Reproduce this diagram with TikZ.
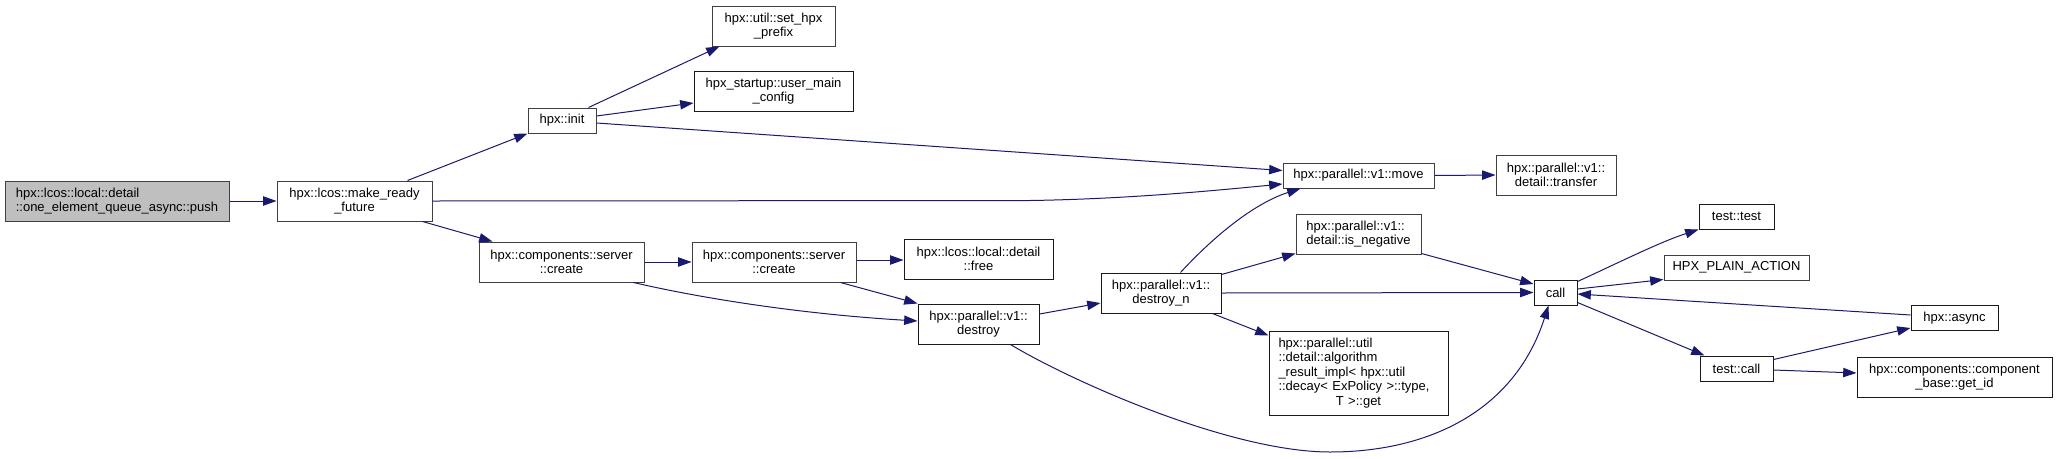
\documentclass[tikz,border=0pt]{standalone}
\usepackage{fontspec}
\setmainfont{Liberation Sans}
\usetikzlibrary{arrows.meta,calc}
\definecolor{edgec}{HTML}{191970}
\definecolor{bordg}{HTML}{404040}
\definecolor{bordk}{HTML}{1A1A1A}
\definecolor{rootfill}{HTML}{BFBFBF}
\begin{document}
\begin{tikzpicture}[x=0.75pt,y=-0.75pt,
  box/.style={draw=bordk,line width=0.75pt,fill=white,inner sep=0pt,align=center,
    minimum height=30pt,font=\fontsize{9.75}{10.5}\selectfont},
  gbox/.style={box,draw=bordg},
  sbox/.style={minimum height=18.75pt},
  edge/.style={draw=edgec,line width=0.75pt,-{Triangle[length=10pt,width=7pt]}}
]
\useasboundingbox (0,0) rectangle (2057,458);
% nodes
\node[gbox,fill=rootfill,align=left,minimum width=168pt] (push) at (117,201)
  {hpx::lcos::local::detail\\::one\_element\_queue\_async::push};
\node[gbox,minimum width=116.25pt] (mrf) at (354.5,201) {hpx::lcos::make\_ready\\\_future};
\node[gbox,sbox,minimum width=51pt] (init) at (562,120.5) {hpx::init};
\node[gbox,minimum width=92.25pt] (set) at (773.5,26) {hpx::util::set\_hpx\\\_prefix};
\node[box,minimum width=119.25pt] (umc) at (773.5,91) {hpx\_startup::user\_main\\\_config};
\node[gbox,minimum width=123.75pt] (create1) at (561.5,262) {hpx::components::server\\::create};
\node[gbox,minimum width=123pt] (create2) at (774,262) {hpx::components::server\\::create};
\node[box,minimum width=111.75pt] (free) at (978.5,259) {hpx::lcos::local::detail\\::free};
\node[box,minimum width=90.75pt] (destroy) at (978.5,324) {hpx::parallel::v1::\\destroy};
\node[box,minimum width=90pt] (dn) at (1161,293) {hpx::parallel::v1::\\destroy\_n};
\node[gbox,sbox,minimum width=113.25pt] (move) at (1358.5,175.5) {hpx::parallel::v1::move};
\node[gbox,minimum width=90pt] (transfer) at (1556,175) {hpx::parallel::v1::\\detail::transfer};
\node[gbox,align=left,minimum width=93.75pt] (isneg) at (1358.5,234) {hpx::parallel::v1::\\detail::is\_negative};
\node[box,align=left,text width=120pt,minimum width=134.25pt,minimum height=63pt,
  font=\fontsize{9.75}{10.8}\selectfont] (alg) at (1358.5,373)
  {hpx::parallel::util\\::detail::algorithm\\\_result\_impl< hpx::util\\::decay< ExPolicy >::type,\\\makebox[\linewidth]{T >::get}};
\node[box,sbox,minimum width=32.25pt] (call) at (1555.5,292.5) {call};
\node[box,sbox,minimum width=56.25pt] (tt) at (1736.5,216.5) {test::test};
\node[gbox,sbox,minimum width=108.75pt] (hpa) at (1736.5,267.5) {HPX\_PLAIN\_ACTION};
\node[box,sbox,minimum width=65.25pt] (async) at (1954.5,318) {hpx::async};
\node[box,sbox,minimum width=54.75pt] (tc) at (1736.5,368.5) {test::call};
\node[box,minimum width=146.25pt] (getid) at (1954.5,377) {hpx::components::component\\\_base::get\_id};
% edges
\draw[edge] (push.east) -- (mrf.west);
\draw[edge] ($(mrf.north west)+(131,0)$) -- (init.south west);
\draw[edge] ($(mrf.south west)+(146,0)$) -- ($(create1.north west)+(14,0)$);
\draw[edge] (mrf.east) -- (1030,200.5) .. controls (1130,199) and (1220,190) .. ($(move.west)+(0,8.5)$);
\draw[edge] ($(init.north west)+(61,0)$) -- ($(set.south west)+(8,0)$);
\draw[edge] ($(init.east)+(0,-4.5)$) -- ($(umc.west)+(0,12)$);
\draw[edge] ($(init.east)+(0,2.5)$) -- ($(move.west)+(0,-5)$);
\draw[edge] (create1.east) -- (create2.west);
\draw[edge] ($(create1.south east)+(-11,0)$) .. controls (700,298) and (800,314) .. ($(destroy.west)+(0,-3)$);
\draw[edge] ($(create2.east)+(0,-2)$) -- ($(free.west)+(0,1)$);
\draw[edge] ($(create2.south east)+(-16,0)$) -- (destroy.north west);
\draw[edge] ($(destroy.east)+(0,-10)$) -- ($(dn.west)+(0,10)$);
\draw[edge] ($(destroy.south west)+(93,0)$) .. controls (1071,381) and (1230,452) .. (1330,452)
  .. controls (1430,452) and (1515,410) .. ($(call.south west)+(15,0)$);
\draw[edge] ($(dn.north west)+(80,0)$) .. controls (1215,235) and (1255,203) .. ($(move.south west)+(18,0)$);
\draw[edge] ($(dn.north east)+(0,2)$) -- ($(isneg.south west)+(0,-1)$);
\draw[edge] (dn.east) -- (call.west);
\draw[edge] ($(dn.south east)+(-9,0)$) -- ($(alg.north west)+(0,5)$);
\draw[edge] ($(isneg.south east)+(0,-1)$) -- ($(call.west)+(0,-8.5)$);
\draw[edge] (move.east) -- (transfer.west);
\draw[edge] ($(call.north east)+(0,2)$) .. controls (1620,262) and (1660,242) .. (tt.south west);
\draw[edge] ($(call.east)+(0,-3.5)$) -- ($(hpa.south west)+(0,-1)$);
\draw[edge] ($(call.south east)+(0,-3)$) -- ($(tc.north west)+(5,0)$);
\draw[edge] ($(async.west)+(0,-3)$) -- ($(call.east)+(0,1.5)$);
\draw[edge] ($(tc.north east)+(0,4)$) -- ($(async.south west)+(0,-3)$);
\draw[edge] ($(tc.east)+(0,1.5)$) -- ($(getid.west)+(0,-4)$);
\end{tikzpicture}
\end{document}
